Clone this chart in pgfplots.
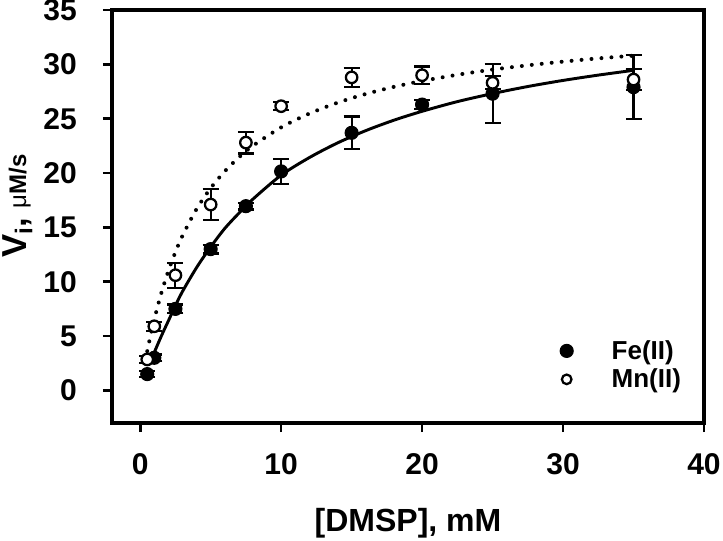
\documentclass[border=0pt]{standalone}
\usepackage{fontspec}
\setmainfont{Liberation Sans}
\usepackage{pgfplots}
\pgfplotsset{compat=1.18}
\usepackage{pgfplotstable}

\pgfplotsset{
  mylegimg/.style={legend image code/.code={\draw[##1, mark size=#1] plot coordinates {(0pt,0pt)}; \path[draw=none, fill=none] (-5pt,0pt) rectangle (33.75pt,0pt);}}
}

\pgfplotstableread{
x y e
0.5 1.5 0.3
1 3.0 0.3
2.5 7.5 0.4
5 13.0 0.4
7.5 16.95 0.3
10 20.15 1.15
15 23.7 1.5
20 26.3 0.4
25 27.3 2.7
35 27.9 2.95
}\fedata

\pgfplotstableread{
x y e
0.5 2.85 0.3
1 5.9 0.4
2.5 10.6 1.15
5 17.1 1.4
7.5 22.8 1.0
10 26.15 0.35
15 28.8 0.85
20 29.0 0.8
25 28.3 0.6
35 28.6 1.0
}\mndata

\begin{document}
\begin{tikzpicture}
\useasboundingbox (-84pt,-87.75pt) rectangle (458.25pt,317.25pt);
\begin{axis}[
  at={(0pt,0pt)}, anchor=south west,
  scale only axis, width=444pt, height=309.75pt,
  xmin=-2, xmax=40, ymin=-3, ymax=35,
  xtick={0,10,20,30,40}, ytick={0,5,...,35},
  xtick pos=left, ytick pos=left,
  tick align=outside,
  major tick length=6.75pt,
  tick style={line width=2pt, black},
  axis line style={line width=2.4pt, line cap=rect},
  /pgf/number format/assume math mode=true,
  ticklabel style={font=\bfseries\fontsize{22.5}{27}\selectfont, inner sep=0pt},
  xticklabel shift=16pt,
  yticklabel shift=19.5pt,
  xlabel={[DMSP], mM},
  xlabel style={font=\bfseries\fontsize{24}{28}\selectfont, at={(axis description cs:0.5,-0.2421)}, anchor=center, inner sep=0pt},
  ylabel={{\fontsize{26}{30}\selectfont\bfseries V\textsubscript{i}, }{\fontsize{18}{22}\selectfont\mdseries μ\bfseries M/s}},
  ylabel style={at={(axis description cs:-0.1858,0.525)}, anchor=north, inner sep=0pt},
  legend cell align=left,
  legend style={at={(axis description cs:0.7568,0.1998)}, anchor=north west, draw=none, fill=none,
    inner sep=0pt, outer sep=0pt, font=\bfseries\fontsize{19.5}{23}\selectfont,
    row sep=5.7pt, column sep=0pt, nodes={inner sep=0pt}},
]
% fitted curves
\addplot[black, line width=2.2pt, smooth, forget plot] coordinates {
(1,3.5) (1.5,5.0) (2,6.4) (2.5,7.8) (3,9.1) (4,11.3) (5,13.2) (6,14.9) (7,16.3) (8,17.6)
(10,19.8) (12,21.42) (14,22.77) (16,23.9) (18,24.86) (20,25.68) (22.5,26.57) (25,27.31)
(27.5,27.96) (30,28.52) (32.5,29.01) (35,29.45)};
\addplot[black, line width=3pt, line cap=round, dash pattern=on 0pt off 7.5pt, smooth, forget plot] coordinates {
(0.5,3.61) (0.75,5.15) (1,6.54) (1.5,8.96) (2,11.0) (2.5,12.73) (3,14.23) (4,16.69) (5,18.61)
(6,20.16) (7,21.44) (8,22.51) (10,24.2) (12,25.47) (14,26.47) (16,27.27) (18,27.93) (20,28.47)
(22.5,29.04) (25,29.52) (27.5,29.91) (30,30.25) (32.5,30.55) (35,30.8)};
% data
\addplot[only marks, black, mark=*, mark size=4.9pt, mark options={fill=black, draw=black, solid, line width=0.8pt},
  mylegimg=4.9pt,
  error bars/.cd, y dir=both, y explicit,
  error bar style={line width=1.6pt, black, solid},
  error mark options={rotate=90, mark size=6pt, line width=1.6pt, black}]
  table[x=x, y=y, y error=e] {\fedata};
\addplot[only marks, black, mark=*, mark size=4.3pt, mark options={fill=white, draw=black, solid, line width=1.7pt},
  mylegimg=3.6pt,
  error bars/.cd, y dir=both, y explicit,
  error bar style={line width=1.6pt, black, solid},
  error mark options={rotate=90, mark size=6pt, line width=1.6pt, black}]
  table[x=x, y=y, y error=e] {\mndata};
\legend{Fe(II), Mn(II)}
\end{axis}
\end{tikzpicture}
\end{document}
